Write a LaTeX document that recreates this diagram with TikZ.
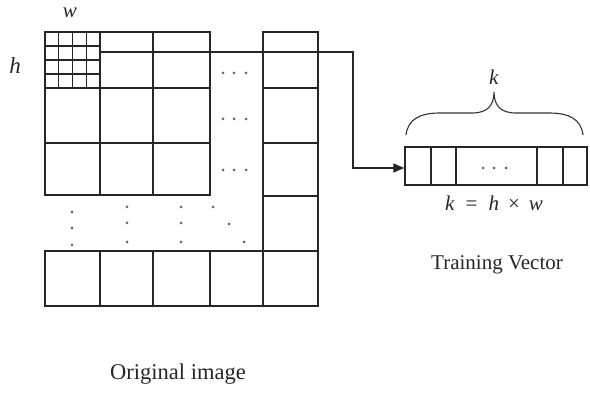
\documentclass[tikz,border=0pt]{standalone}
\usepackage{fontspec}
\setmainfont{Liberation Serif}
\usetikzlibrary{arrows.meta}
\begin{document}
\begin{tikzpicture}[x=1pt,y=-1pt,
  gridline/.style={line width=1.3pt, draw=black!85},
  fineline/.style={line width=1.2pt, draw=black!85},
  lbl/.style={font=\fontsize{21}{23}\selectfont, inner sep=0pt, text=black!85},
  gdot/.style={circle, fill=black!60, inner sep=0pt, minimum size=3pt}]
\useasboundingbox (0,0) rectangle (590,393);
% main block of the image
\draw[gridline] (45,32) rectangle (210,195);
\foreach \x in {100,153} \draw[gridline] (\x,32) -- (\x,195);
\foreach \y in {88,143} \draw[gridline] (45,\y) -- (210,\y);
% right column
\draw[gridline] (263,32) rectangle (318,306);
\foreach \y in {88,143,196,251} \draw[gridline] (263,\y) -- (318,\y);
% bottom row
\draw[gridline] (45,251) rectangle (263,306);
\foreach \x in {100,153,210} \draw[gridline] (\x,251) -- (\x,306);
% fine grid in the first block
\foreach \i in {1,2,3} {
  \draw[fineline] ({45+\i*13.75},32) -- ({45+\i*13.75},88);
  \draw[fineline] (45,{32+\i*14}) -- (100,{32+\i*14});
}
% ellipsis dots in the gap
\foreach \y in {73,119,170} {
  \foreach \x in {223,234,246} \node[gdot] (g-\x-\y) at (\x,\y) {};
}
% vertical and diagonal dots
\foreach \y in {212,228,245} \node[gdot] (a-\y) at (72,\y) {};
\foreach \y in {207,223,242} { \node[gdot] (b-\y) at (127,\y) {}; \node[gdot] (c-\y) at (181,\y) {}; }
\node[gdot] (d1) at (213,207) {};
\node[gdot] (d2) at (229,224) {};
\node[gdot] (d3) at (244,242) {};
% labels of the image
\node[lbl] (wlab) at (70,13) {\textit{w}};
\node[lbl, font=\fontsize{23}{25}\selectfont] (hlab) at (15,66) {\textit{h}};
\node[lbl, anchor=base, font=\fontsize{22.5}{25}\selectfont] (orig) at (178,379) {Original image};
% training vector
\node[draw=black!85, line width=1.3pt, minimum width=182pt, minimum height=38pt, inner sep=0pt] (vec) at (496,166) {};
\foreach \x in {431,456,537,563} \draw[gridline] (\x,147) -- (\x,185);
\foreach \x in {483,494,506} \node[gdot] (v-\x) at (\x,168) {};
% brace
\draw[line width=1.1pt, draw=black!80]
  (406,135) .. controls (408,119) and (420,113) .. (440,113) -- (472,113)
  .. controls (487,113) and (494,106) .. (494,92)
  .. controls (494,106) and (501,113) .. (516,113) -- (549,113)
  .. controls (569,113) and (581,119) .. (583,135);
\node[lbl] (klab) at (494,77) {\textit{k}};
\node[lbl] (keq) at (494,203) {\textit{k}\hspace{11pt}=\hspace{11pt}\textit{h}\hspace{9pt}×\hspace{9pt}\textit{w}};
\node[lbl, anchor=base, font=\fontsize{21}{23}\selectfont] (tv) at (497,270) {Training Vector};
% connector
\coordinate (start) at (100,52);
\coordinate (c1) at (353,52);
\coordinate (c2) at (353,168);
\draw[gridline, -{Triangle[length=11pt,width=9pt]}] (start) -- (c1) -- (c2) -- (c2 -| vec.west);
\end{tikzpicture}
\end{document}
